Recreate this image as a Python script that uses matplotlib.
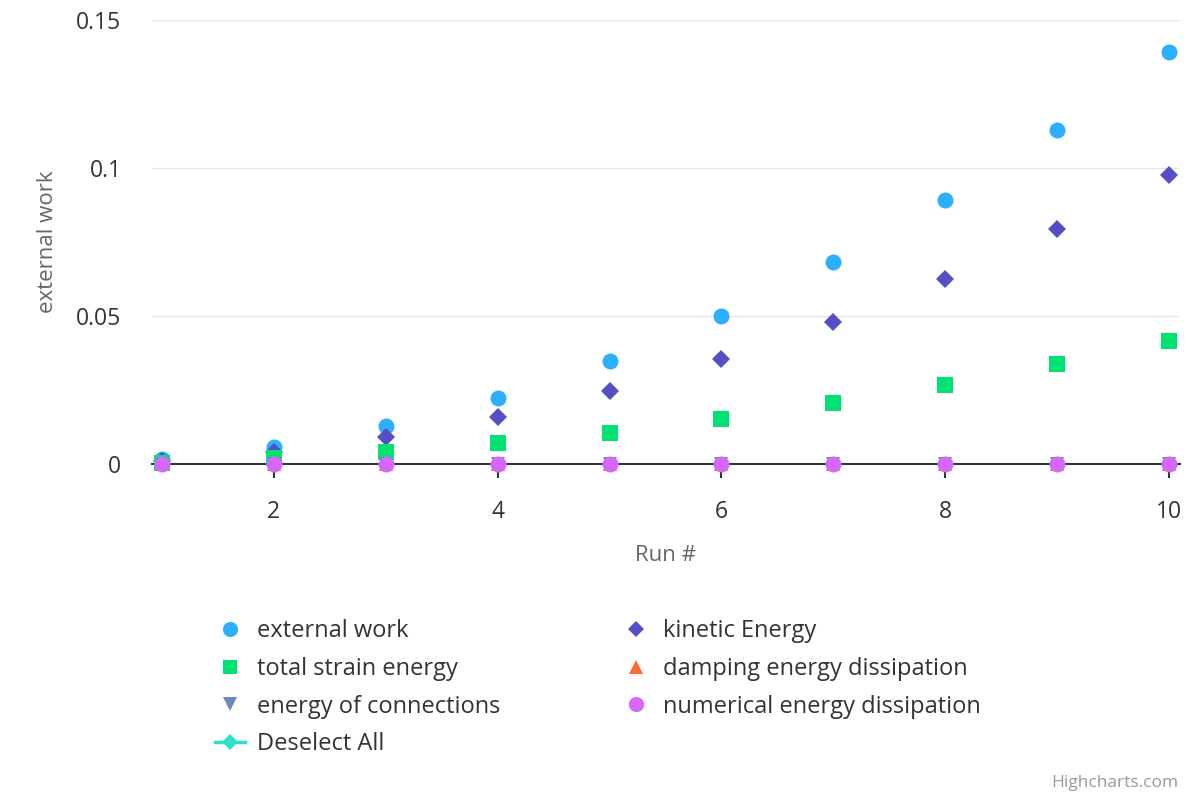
import matplotlib
matplotlib.use("Agg")
import matplotlib.pyplot as plt
from matplotlib.lines import Line2D

plt.rcParams['font.family'] = ['Open Sans', 'DejaVu Sans']

runs = [1, 2, 3, 4, 5, 6, 7, 8, 9, 10]
external_work = [0.0017, 0.0057, 0.0128, 0.0223, 0.0348, 0.0500, 0.0682, 0.0892, 0.1128, 0.1392]
kinetic_energy = [0.0010, 0.0040, 0.0091, 0.0159, 0.0247, 0.0355, 0.0480, 0.0625, 0.0794, 0.0976]
total_strain = [0.0005, 0.0020, 0.0040, 0.0071, 0.0105, 0.0152, 0.0206, 0.0267, 0.0338, 0.0416]
damping = [0.0] * 10
connections = [0.0] * 10
numerical = [0.0] * 10

series_names = ["external work", "kinetic Energy", "total strain energy",
                "damping energy dissipation", "energy of connections",
                "numerical energy dissipation"]
colors = ["#2caffe", "#544fc5", "#00e272", "#fe6a35", "#6b8abc", "#d568fb"]
markers = ["o", "D", "s", "^", "v", "o"]
sizes = [11.5, 9, 11, 10.5, 10.5, 11.5]
data = [external_work, kinetic_energy, total_strain, damping, connections, numerical]

fig = plt.figure(figsize=(12, 8), dpi=100)
ax = fig.add_axes([152/1200, 1-464/800, (1180-152)/1200, (464-20)/800])

for i in range(len(data)):
    ax.plot(runs, data[i], linestyle="none", marker=markers[i], color=colors[i],
            markersize=sizes[i], markeredgewidth=0, clip_on=False, zorder=3+i)

ax.set_xlim(0.91, 10.1)
ax.set_ylim(0, 0.15)
ax.set_yticks([0, 0.05, 0.1, 0.15])
ax.set_yticklabels(["0", "0.05", "0.1", "0.15"])
ax.set_xticks([2, 4, 6, 8, 10])
ax.grid(axis="y", color="#e6e6e6", linewidth=1)
ax.set_axisbelow(True)
for s in ["top", "right", "left"]:
    ax.spines[s].set_visible(False)
ax.spines["bottom"].set_color("#333333")
ax.spines["bottom"].set_linewidth(1.5)
ax.spines["bottom"].set_zorder(2)
ax.tick_params(axis="y", length=0, labelsize=16.5, labelcolor="#333333", pad=22)
ax.tick_params(axis="x", length=10, width=1.5, color="#333333", labelsize=16.5,
               labelcolor="#333333", pad=16)
ax.set_xlabel("Run #", fontsize=16, color="#666666", labelpad=15)
ax.set_ylabel("external work", fontsize=16, color="#666666", labelpad=13)

# Legend
handles = []
for i in range(len(data)):
    handles.append(Line2D([], [], linestyle="none", marker=markers[i], color=colors[i],
                          markersize=sizes[i]*0.95, markeredgewidth=0, label=series_names[i]))
handles.append(Line2D([], [], linestyle="-", linewidth=2.5, marker="D", color="#2ee0ca",
                      markersize=8, markeredgewidth=0, label="Deselect All"))
col1 = [handles[0], handles[2], handles[4], handles[6]]
col2 = [handles[1], handles[3], handles[5]]
all_h = col1 + col2
leg = fig.legend(handles=all_h, labels=[h.get_label() for h in all_h], ncol=2,
                 loc="upper left", bbox_to_anchor=(194/1200, 1-598/800),
                 frameon=False, fontsize=17, labelcolor="#333333",
                 handlelength=1.27, handletextpad=0.5, columnspacing=5.1,
                 labelspacing=0.58)

fig.text(1178/1200, 1-783/800, "Highcharts.com", ha="right", va="center",
         fontsize=12.5, color="#999999")

fig.savefig("out.png", dpi=100)
